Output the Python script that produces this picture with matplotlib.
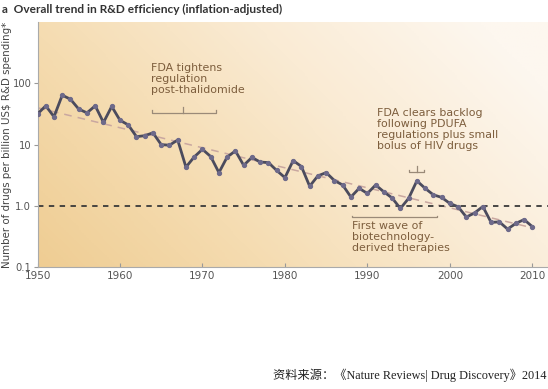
import numpy as np
import matplotlib
matplotlib.use("Agg")
import matplotlib.pyplot as plt
from matplotlib.colors import LinearSegmentedColormap

years = list(range(1950, 2011))
drugs_per_billion = [
    31.6, 43, 28.5, 64, 55, 38, 33, 43, 23, 42,
    25, 21, 13.5, 14, 15.6, 10, 9.8, 11.9, 4.3, 6.3,
    8.4, 6.4, 3.5, 6.3, 7.9, 4.6, 6.2, 5.2, 5.1, 3.8,
    2.9, 5.5, 4.4, 2.1, 3.1, 3.5, 2.6, 2.2, 1.4, 1.94,
    1.6, 2.2, 1.7, 1.35, 0.91, 1.33, 2.57, 1.94, 1.52, 1.38,
    1.1, 0.97, 0.66, 0.77, 0.98, 0.54, 0.55, 0.42, 0.52, 0.60,
    0.46,
]
trend_years = [1950, 2010]
trend_values = [40, 0.44]
ref_level = 1.0
x_ticks = [1950, 1960, 1970, 1980, 1990, 2000, 2010]
y_ticks = [0.1, 1.0, 10, 100]
y_tick_labels = ["0.1", "1.0", "10", "100"]

W, H = 548, 389
fig = plt.figure(figsize=(W / 100, H / 100), dpi=100)
fig.patch.set_facecolor("white")
ax = fig.add_axes([37.5 / W, (H - 267.3) / H, (W - 37.5) / W, (267.3 - 22) / H])
ax.set_yscale("log")
ax.set_xlim(1950, 2011.9)
ax.set_ylim(0.1, 1000)

# background gradient (warm tan bottom-left -> pale top-right)
nx, ny = 200, 100
gx = np.linspace(0, 1, nx)[None, :]
gy = np.linspace(0, 1, ny)[:, None]
t = np.clip(0.75 * gx + 0.35 * gy, 0, 1)
cmap = LinearSegmentedColormap.from_list("bg", ["#efcd93", "#f5dcb1", "#faebd4", "#fdf7ef"])
ax.imshow(t, cmap=cmap, aspect="auto", extent=[0, 1, 0, 1], origin="lower",
          transform=ax.transAxes, zorder=0, vmin=0, vmax=1)

ax.plot(trend_years, trend_values, linestyle=(0, (5, 4)), color="#c9a7a0", lw=1.1, zorder=2)
ax.axhline(ref_level, color="#3a3a3a", linestyle=(0, (3, 3)), lw=1.3, zorder=2)
ax.plot(years, drugs_per_billion, color="#4b4b5d", lw=2.0, marker="o", ms=2.8,
        markerfacecolor="#6e6a8a", markeredgecolor="#6e6a8a", zorder=3)

ax.set_xticks(x_ticks)
ax.set_xticklabels([str(v) for v in x_ticks], fontsize=7.5, color="#555555")
ax.set_yticks(y_ticks)
ax.set_yticklabels(y_tick_labels, fontsize=7.2, color="#555555")
ax.yaxis.set_minor_locator(matplotlib.ticker.NullLocator())
ax.tick_params(axis="y", direction="out", length=3, color="#999999", pad=1.5)
ax.tick_params(axis="x", direction="in", length=3, color="#999999", pad=3)
for s in ["top", "right"]:
    ax.spines[s].set_visible(False)
for s in ["left", "bottom"]:
    ax.spines[s].set_color("#aaaaaa")
    ax.spines[s].set_linewidth(0.8)

ann_color = "#7d5e3d"
br_color = "#9a8a78"
fs_ann = 7.9
# FDA tightens
ax.text(1963.8, 215, "FDA tightens\nregulation\npost-thalidomide", fontsize=fs_ann,
        color=ann_color, va="top", ha="left", linespacing=1.12, zorder=4)
ax.plot([1963.9, 1963.9, 1971.6, 1971.6], [37, 33, 33, 37], color=br_color, lw=0.9)
ax.plot([1967.7, 1967.7], [33, 41], color=br_color, lw=0.9)
# FDA clears backlog
ax.text(1991.2, 40, "FDA clears backlog\nfollowing PDUFA\nregulations plus small\nbolus of HIV drugs",
        fontsize=fs_ann, color=ann_color, va="top", ha="left", linespacing=1.12, zorder=4)
ax.plot([1995.1, 1995.1, 1996.9, 1996.9], [3.9, 3.6, 3.6, 3.9], color=br_color, lw=0.9)
ax.plot([1996.0, 1996.0], [3.6, 4.5], color=br_color, lw=0.9)
# First wave
ax.plot([1988.1, 1988.1, 1998.4, 1998.4], [0.69, 0.65, 0.65, 0.69], color=br_color, lw=0.9)
ax.text(1988.1, 0.56, "First wave of\nbiotechnology-\nderived therapies", fontsize=fs_ann,
        color=ann_color, va="top", ha="left", linespacing=1.12, zorder=4)

fig.text(0.004, 0.99, "a  Overall trend in R&D efficiency (inflation-adjusted)",
         fontsize=8.6, fontweight="bold", color="#333333", va="top", ha="left", family="Lato")
fig.text(0.0135, (H - 145) / H, "Number of drugs per billion US$ R&D spending*", rotation=90,
         fontsize=7.4, color="#444444", va="center", ha="center")
fig.text(0.998, (H - 375) / H, "资料来源：《Nature Reviews| Drug Discovery》2014",
         fontsize=8.8, color="#222222", va="center", ha="right",
         family=["Liberation Serif", "Noto Sans CJK SC"])

fig.savefig("out.png", dpi=100)
